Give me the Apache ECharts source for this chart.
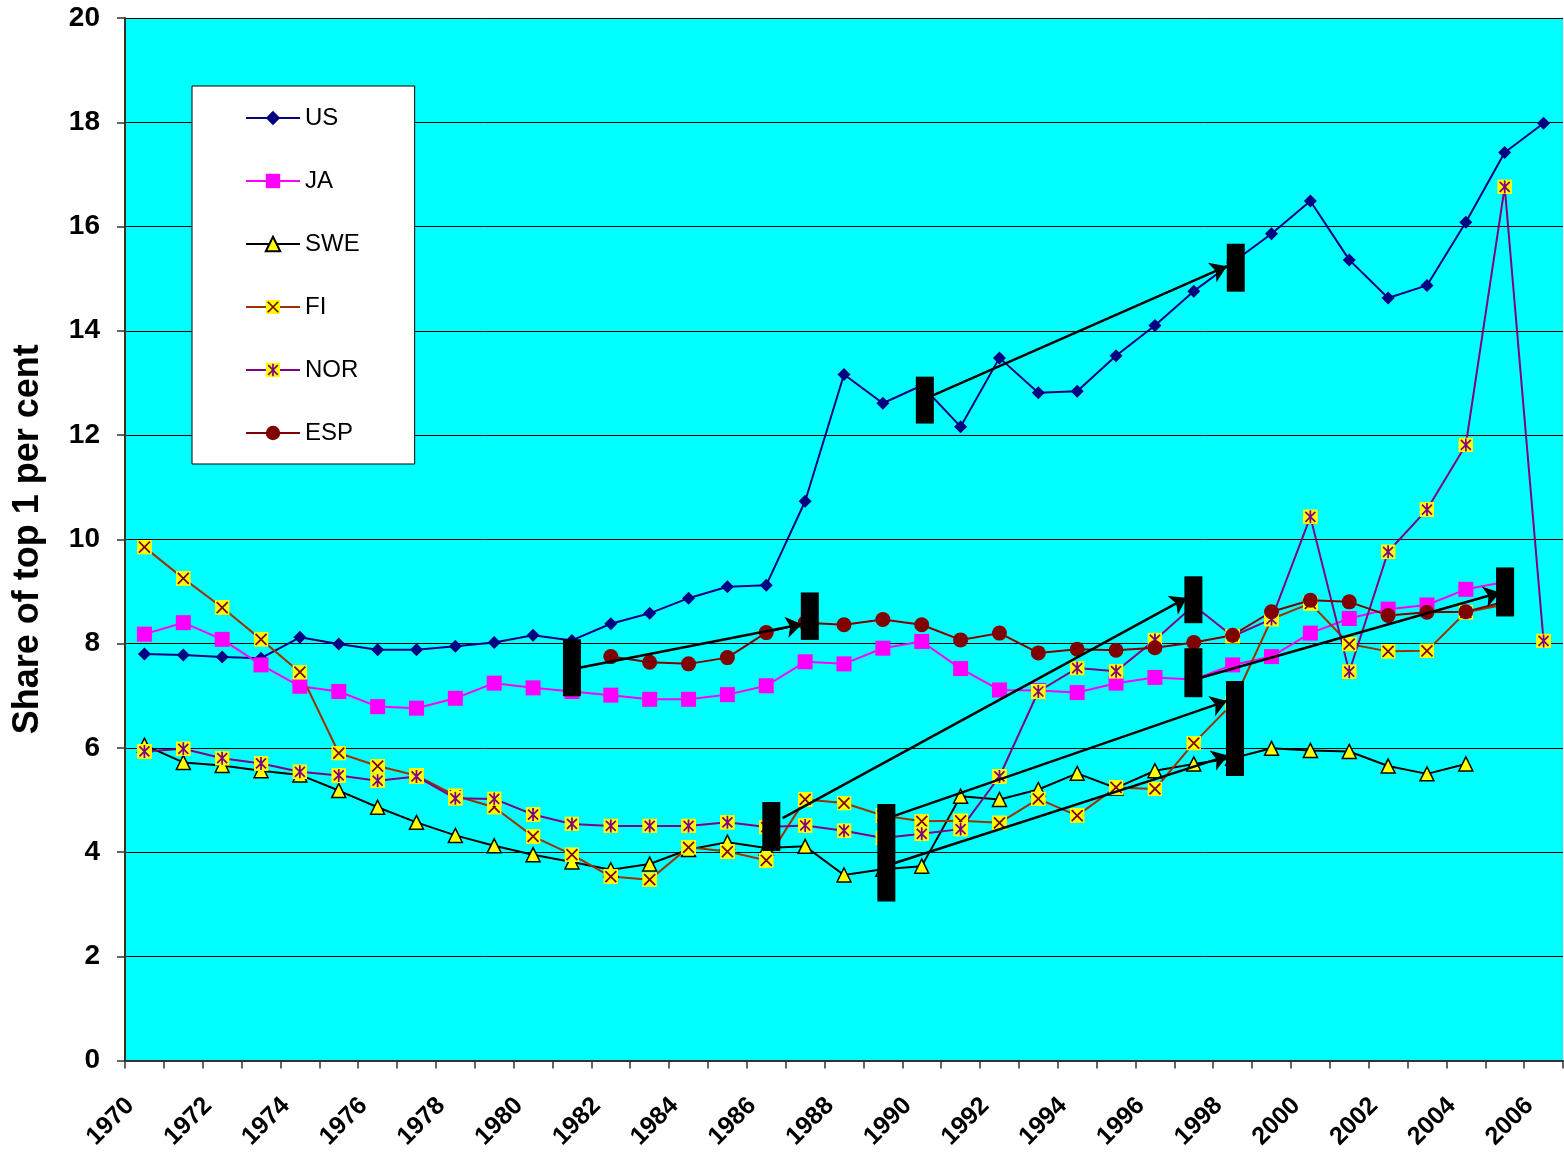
<!DOCTYPE html>
<html>
<head>
<meta charset="utf-8">
<script src="https://cdn.jsdelivr.net/npm/echarts@6/dist/echarts.min.js"></script>
<style>
html,body{margin:0;padding:0;background:#fff;}
#chart{width:1564px;height:1152px;}
</style>
</head>
<body>
<div id="chart"></div>
<script>
var years = ['1970','1971','1972','1973','1974','1975','1976','1977','1978','1979','1980','1981','1982','1983','1984','1985','1986','1987','1988','1989','1990','1991','1992','1993','1994','1995','1996','1997','1998','1999','2000','2001','2002','2003','2004','2005','2006'];

var US  = [7.80,7.78,7.74,7.72,8.12,7.99,7.88,7.88,7.95,8.02,8.16,8.06,8.38,8.58,8.87,9.09,9.12,10.73,13.16,12.61,12.95,12.16,13.48,12.81,12.84,13.52,14.10,14.76,15.31,15.86,16.49,15.36,14.63,14.87,16.08,17.42,17.98];
var JA  = [8.18,8.40,8.08,7.59,7.18,7.08,6.79,6.76,6.95,7.24,7.15,7.08,7.01,6.93,6.93,7.02,7.19,7.65,7.61,7.91,8.04,7.52,7.11,7.10,7.06,7.24,7.35,7.31,7.59,7.75,8.20,8.48,8.66,8.74,9.04,9.18,null];
var SWE = [6.05,5.72,5.66,5.56,5.48,5.18,4.86,4.57,4.32,4.12,3.95,3.81,3.66,3.77,4.05,4.19,4.08,4.11,3.56,3.67,3.73,5.07,5.01,5.20,5.51,5.23,5.56,5.69,5.80,5.99,5.95,5.93,5.65,5.50,5.69,null,null];
var FI  = [9.85,9.25,8.69,8.08,7.45,5.90,5.65,5.47,5.08,4.86,4.30,3.95,3.53,3.47,4.09,4.01,3.84,5.01,4.94,4.70,4.59,4.60,4.56,5.02,4.70,5.24,5.21,6.09,6.85,8.47,8.77,7.99,7.85,7.86,8.60,8.75,null];
var NOR = [5.93,5.98,5.80,5.70,5.54,5.47,5.37,5.45,5.03,5.02,4.72,4.54,4.50,4.50,4.50,4.57,4.48,4.51,4.41,4.27,4.35,4.44,5.45,7.08,7.53,7.47,8.07,8.73,8.14,8.47,10.43,7.46,9.76,10.57,11.81,16.76,8.05];
var ESP = [null,null,null,null,null,null,null,null,null,null,null,null,7.75,7.64,7.61,7.73,8.21,8.40,8.36,8.46,8.36,8.07,8.20,7.82,7.89,7.87,7.92,8.02,8.16,8.61,8.83,8.80,8.54,8.60,8.61,8.80,null];

var yTicks = [0,2,4,6,8,10,12,14,16,18,20];

// annotation bars: [x position (category index units), low value, high value]
var markerBars = [
  [11.00, 6.99, 8.08],
  [17.12, 8.07, 8.98],
  [16.13, 4.02, 4.96],
  [19.09, 3.05, 4.92],
  [20.08, 12.22, 13.12],
  [28.08, 14.75, 15.67],
  [26.99, 8.39, 9.29],
  [26.99, 6.97, 7.91],
  [28.06, 5.46, 7.28],
  [35.01, 8.52, 9.46]
];
// annotation arrows: [x1, y1, x2, y2]
var arrows = [
  [11.22, 7.54, 16.92, 8.37],
  [16.42, 4.65, 26.82, 8.88],
  [19.31, 4.70, 27.85, 6.90],
  [19.31, 3.79, 27.88, 5.85],
  [20.26, 12.75, 27.85, 15.24],
  [27.20, 7.35, 34.88, 8.98]
];

function svgSym(svg){ return 'image://data:image/svg+xml;charset=utf-8,' + encodeURIComponent(svg); }
var fiSym = svgSym('<svg xmlns="http://www.w3.org/2000/svg" width="30" height="30" viewBox="0 0 30 30"><rect width="30" height="30" fill="#FFFF00"/><path d="M4 4L26 26M26 4L4 26" stroke="#800000" stroke-width="3.5" fill="none"/></svg>');
var norSym = svgSym('<svg xmlns="http://www.w3.org/2000/svg" width="30" height="30" viewBox="0 0 30 30"><rect width="30" height="30" fill="#FFFF00"/><path d="M5 5L25 25M25 5L5 25M15 2L15 28" stroke="#800080" stroke-width="3.5" fill="none"/></svg>');

var FONT = '"Liberation Sans", Arial, sans-serif';
var chart = echarts.init(document.getElementById('chart'), null, {renderer:'canvas'});

function lineSeries(name, data, color, symbol, size, itemStyle){
  return {
    name: name, type: 'line', data: data,
    xAxisIndex: 0, yAxisIndex: 0,
    symbol: symbol, symbolSize: size, showSymbol: true,
    connectNulls: false,
    lineStyle: {color: color, width: 2},
    itemStyle: itemStyle || {color: color},
    emphasis: {disabled: true}
  };
}

chart.setOption({
  animation: false,
  textStyle: {fontFamily: FONT},
  grid: {left: 125, right: 1, top: 18, bottom: 90, show: true, backgroundColor: '#00FFFF', borderWidth: 0, containLabel: false},
  legend: {
    show: true,
    data: ['US','JA','SWE','FI','NOR','ESP'],
    orient: 'vertical',
    left: 192, top: 86,
    padding: [20, 55, 19, 53],
    itemWidth: 54, itemHeight: 18, itemGap: 39,
    backgroundColor: '#FFFFFF', borderColor: '#000000', borderWidth: 1,
    textStyle: {fontSize: 24, color: '#000', fontFamily: FONT, lineHeight: 24},
    selectedMode: false
  },
  xAxis: [{
    type: 'category', data: years, boundaryGap: true,
    axisLine: {show: true, onZero: false, lineStyle: {color: '#333', width: 2}},
    axisTick: {show: true, interval: 0, length: 8, lineStyle: {color: '#333', width: 1.5}},
    axisLabel: {interval: 1, rotate: 45, fontSize: 25, fontWeight: 'bold', color: '#000', margin: 27, padding: [0, 20, 0, 0], fontFamily: FONT},
    splitLine: {show: false}
  }, {
    type: 'value', min: -0.5, max: 36.5, show: false
  }],
  yAxis: {
    type: 'value', min: 0, max: 20, interval: 2,
    name: 'Share of top 1 per cent', nameLocation: 'middle', nameGap: 79,
    nameTextStyle: {fontSize: 36, fontWeight: 'bold', color: '#000', fontFamily: FONT},
    axisLine: {show: true, onZero: false, lineStyle: {color: '#333', width: 2}},
    axisTick: {show: true, length: 8, lineStyle: {color: '#333', width: 1.5}},
    axisLabel: {fontSize: 28, fontWeight: 'bold', color: '#000', margin: 25, fontFamily: FONT,
      customValues: yTicks},
    splitLine: {show: true, lineStyle: {color: '#000', width: 1}}
  },
  series: [
    lineSeries('US', US, '#000080', 'diamond', 13),
    lineSeries('JA', JA, '#FF00FF', 'rect', 15),
    lineSeries('SWE', SWE, '#000000', 'triangle', 14, {color: '#FFFF00', borderColor: '#000000', borderWidth: 1.5}),
    lineSeries('FI', FI, '#993300', fiSym, 15, {color: '#993300'}),
    lineSeries('NOR', NOR, '#800080', norSym, 15, {color: '#800080'}),
    lineSeries('ESP', ESP, '#800000', 'circle', 15),
    {
      type: 'lines', coordinateSystem: 'cartesian2d', xAxisIndex: 1, yAxisIndex: 0,
      z: 5,
      symbol: ['none', 'arrow'], symbolSize: 16,
      lineStyle: {color: '#000', width: 2.5, opacity: 1, curveness: 0},
      silent: true,
      data: arrows.map(function(a){ return {coords: [[a[0], a[1]], [a[2], a[3]]]}; })
    },
    {
      type: 'custom', xAxisIndex: 1, yAxisIndex: 0, z: 6, silent: true,
      encode: {x: 0, y: [1, 2]},
      renderItem: function(params, api){
        var x = api.value(0), lo = api.value(1), hi = api.value(2);
        var p1 = api.coord([x, hi]);
        var p2 = api.coord([x, lo]);
        return {type: 'rect', shape: {x: p1[0] - 9, y: p1[1], width: 18, height: p2[1] - p1[1]}, style: {fill: '#000000'}};
      },
      data: markerBars
    }
  ]
});
</script>
</body>
</html>
